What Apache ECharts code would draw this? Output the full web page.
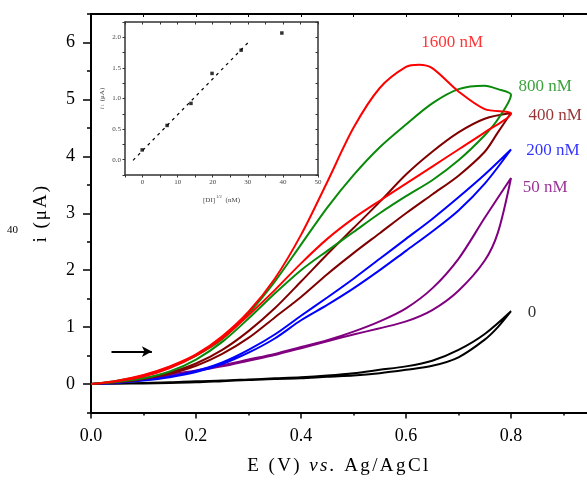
<!DOCTYPE html>
<html>
<head>
<meta charset="utf-8">
<script src="https://cdn.jsdelivr.net/npm/echarts@6.0.0/dist/echarts.min.js"></script>
<style>
html,body{margin:0;padding:0;background:#fff}
#chart{width:587px;height:488px}
</style>
</head>
<body>
<div id="chart"></div>
<script>
// cyclic voltammograms, [E (V), i (uA)]: out to 0.8 V, then back to 0
var cv0 = [[0,0],[0.05,0.01],[0.1,0.02],[0.15,0.03],[0.2,0.05],[0.25,0.06],[0.3,0.08],[0.35,0.1],[0.4,0.12],[0.45,0.15],[0.5,0.19],[0.55,0.25],[0.6,0.31],[0.65,0.41],[0.7,0.6],[0.75,0.88],[0.8,1.28],
  [0.775,1.0],[0.75,0.78],[0.7,0.47],[0.65,0.32],[0.6,0.25],[0.55,0.19],[0.5,0.15],[0.45,0.13],[0.4,0.1],[0.35,0.09],[0.3,0.07],[0.25,0.05],[0.2,0.03],[0.15,0.02],[0.1,0.01],[0.05,0.005],[0,0]];
var cv50 = [[0,0],[0.05,0.03],[0.1,0.09],[0.15,0.17],[0.2,0.24],[0.25,0.33],[0.3,0.43],[0.35,0.53],[0.4,0.65],[0.45,0.77],[0.5,0.92],[0.55,1.1],[0.6,1.33],[0.65,1.68],[0.7,2.2],[0.75,2.92],[0.8,3.62],
  [0.775,2.66],[0.75,2.17],[0.7,1.64],[0.65,1.3],[0.6,1.1],[0.55,0.98],[0.5,0.87],[0.45,0.75],[0.4,0.63],[0.35,0.51],[0.3,0.41],[0.25,0.31],[0.2,0.23],[0.15,0.15],[0.1,0.08],[0.05,0.03],[0,0]];
var cv200 = [[0,0],[0.05,0.03],[0.1,0.07],[0.15,0.13],[0.2,0.23],[0.25,0.38],[0.3,0.6],[0.35,0.87],[0.4,1.2],[0.45,1.52],[0.5,1.85],[0.55,2.2],[0.6,2.55],[0.65,2.9],[0.7,3.28],[0.75,3.68],[0.8,4.12],
  [0.75,3.52],[0.7,3.05],[0.65,2.68],[0.6,2.34],[0.55,2.0],[0.5,1.68],[0.45,1.39],[0.4,1.12],[0.35,0.8],[0.3,0.55],[0.25,0.35],[0.2,0.21],[0.15,0.12],[0.1,0.06],[0.05,0.02],[0,0]];
var cv400 = [[0,0],[0.05,0.04],[0.1,0.1],[0.15,0.2],[0.2,0.36],[0.25,0.6],[0.3,0.93],[0.35,1.33],[0.4,1.8],[0.45,2.28],[0.5,2.74],[0.55,3.2],[0.6,3.68],[0.65,4.08],[0.7,4.42],[0.75,4.66],[0.8,4.76],
  [0.775,4.42],[0.75,4.08],[0.7,3.66],[0.65,3.33],[0.6,3.0],[0.55,2.65],[0.5,2.3],[0.45,1.93],[0.4,1.53],[0.35,1.17],[0.3,0.81],[0.25,0.53],[0.2,0.32],[0.15,0.18],[0.1,0.09],[0.05,0.03],[0,0]];
var cv800 = [[0,0],[0.05,0.06],[0.1,0.15],[0.15,0.3],[0.2,0.5],[0.25,0.79],[0.3,1.24],[0.35,1.8],[0.4,2.45],[0.45,3.1],[0.5,3.67],[0.55,4.16],[0.6,4.56],[0.65,4.93],[0.7,5.18],[0.75,5.24],[0.775,5.18],[0.8,5.08],
  [0.775,4.65],[0.75,4.37],[0.7,3.93],[0.65,3.58],[0.6,3.3],[0.55,3.0],[0.5,2.67],[0.45,2.34],[0.4,2.0],[0.35,1.59],[0.3,1.15],[0.25,0.74],[0.2,0.43],[0.15,0.22],[0.1,0.1],[0.05,0.04],[0,0]];
var cv1600 = [[0,0],[0.05,0.06],[0.1,0.16],[0.15,0.31],[0.2,0.52],[0.25,0.84],[0.3,1.27],[0.35,1.85],[0.4,2.62],[0.45,3.55],[0.5,4.5],[0.55,5.2],[0.6,5.57],[0.625,5.61],[0.65,5.55],[0.7,5.14],[0.75,4.83],[0.8,4.75],
  [0.75,4.42],[0.7,4.12],[0.65,3.82],[0.6,3.52],[0.55,3.22],[0.5,2.91],[0.45,2.55],[0.4,2.12],[0.35,1.65],[0.3,1.21],[0.25,0.8],[0.2,0.5],[0.15,0.28],[0.1,0.13],[0.05,0.05],[0,0]];

var curveNames = ['0', '50 nM', '200 nM', '400 nM', '800 nM', '1600 nM'];
var curveColors = ['#000000', '#800080', '#0000ff', '#800000', '#0a8a0a', '#ff0000'];
var curves = [cv0, cv50, cv200, cv400, cv800, cv1600];
// where each concentration label sits (E, i)
var labelE = [0.84, 0.865, 0.88, 0.884, 0.865, 0.688];
var labelI = [1.25, 3.46, 4.1, 4.72, 5.23, 6.0];

var arrowE = [0.039, 0.116];
var arrowI = [0.57, 0.57];

// inset: peak current vs [DI]^1/2
var insetX = [-0.1, 7.0, 13.8, 19.8, 28.1, 39.7];
var insetY = [0.16, 0.56, 0.92, 1.41, 1.79, 2.07];
var fitX = [-2.7, 30.2];
var fitY = [-0.01, 1.92];

var serif = '"Liberation Serif", "DejaVu Serif", serif';
var myChart = echarts.init(document.getElementById('chart'));

// spread letters a little, the figure was typeset loosely
function spaced(str, style) {
    return str.split('').map(function (c) { return '{' + style + '|' + c + '}'; }).join('');
}

var series = [];
for (var k = 0; k < curves.length; k++) {
    series.push({
        name: curveNames[k],
        type: 'line',
        xAxisIndex: 0, yAxisIndex: 0,
        data: curves[k],
        showSymbol: false,
        smooth: 0.3,
        lineStyle: {color: curveColors[k], width: 2},
        silent: true
    });
}
var labelData = [];
for (var j = 0; j < curveNames.length; j++) {
    labelData.push({
        value: [labelE[j], labelI[j]],
        name: curveNames[j],
        label: {color: curveColors[j]}
    });
}
series.push({
    type: 'scatter', xAxisIndex: 0, yAxisIndex: 0,
    symbolSize: 0, data: labelData, silent: true,
    label: {show: true, position: 'inside', formatter: '{b}', fontFamily: serif, fontSize: 17}
});
series.push({
    type: 'line', xAxisIndex: 0, yAxisIndex: 0, data: [], silent: true,
    markLine: {
        silent: true, symbol: ['none', 'arrow'], symbolSize: [8, 10],
        label: {show: false},
        lineStyle: {color: '#000', width: 2, type: 'solid'},
        data: [[{coord: [arrowE[0], arrowI[0]]}, {coord: [arrowE[1], arrowI[1]]}]]
    }
});
// inset
series.push({
    type: 'line', xAxisIndex: 2, yAxisIndex: 2,
    data: [[fitX[0], fitY[0]], [fitX[1], fitY[1]]],
    showSymbol: false, silent: true,
    lineStyle: {color: '#000', width: 1.2, type: [3, 4]}
});
series.push({
    type: 'scatter', xAxisIndex: 2, yAxisIndex: 2,
    data: insetX.map(function (x, n) { return [x, insetY[n]]; }),
    symbol: 'rect', symbolSize: 3.5, silent: true,
    itemStyle: {color: '#000'}
});

var halfTicks = [];
for (var h = -0.5; h <= 6.5; h += 1) halfTicks.push(h);

var option = {
    animation: false,
    backgroundColor: '#fff',
    grid: [
        {left: 91, top: 14, width: 525, height: 398.5, outerBoundsMode: 'none', containLabel: false},
        {left: 125, top: 22, width: 193, height: 153, outerBoundsMode: 'none', containLabel: false}
    ],
    xAxis: [
        {
            gridIndex: 0, type: 'value', min: 0, max: 1.0, interval: 0.2,
            axisLine: {onZero: false, lineStyle: {color: '#000', width: 2}},
            axisTick: {length: 6, lineStyle: {color: '#000', width: 1.5}},
            minorTick: {show: true, splitNumber: 2, length: 3, lineStyle: {color: '#000', width: 1.5}},
            splitLine: {show: false},
            axisLabel: {margin: 15, color: '#000', fontFamily: serif, fontSize: 18,
                formatter: function (v) { return v.toFixed(1); }}
        },
        {
            gridIndex: 0, type: 'value', position: 'top', min: 0, max: 1.0, interval: 0.1,
            axisLine: {onZero: false, lineStyle: {color: '#000', width: 2}},
            axisTick: {inside: true, length: 3, lineStyle: {color: '#000'}},
            splitLine: {show: false}, axisLabel: {show: false}
        },
        {
            gridIndex: 1, type: 'value', min: -5, max: 50, interval: 5,
            axisLine: {onZero: false, lineStyle: {color: '#333', width: 1.5}},
            axisTick: {length: 2.5, lineStyle: {color: '#333'}},
            splitLine: {show: false},
            axisLabel: {margin: 4, color: '#444', fontFamily: serif, fontSize: 7,
                formatter: function (v) { return v % 10 === 0 ? String(v) : ''; }},
            name: '{a|[DI]}{s|1/2}{a| (nM)}', nameLocation: 'middle', nameGap: 19,
            nameTextStyle: {color: '#444', fontFamily: serif, fontSize: 7,
                rich: {a: {fontFamily: serif, fontSize: 7, color: '#444'},
                       s: {fontFamily: serif, fontSize: 4.5, color: '#444', padding: [0, 2, 7, 1]}}}
        },
        {
            gridIndex: 1, type: 'value', position: 'top', min: -5, max: 50, interval: 5,
            axisLine: {onZero: false, lineStyle: {color: '#333', width: 1.5}},
            axisTick: {inside: true, length: 2.5, lineStyle: {color: '#333'}},
            splitLine: {show: false}, axisLabel: {show: false}
        }
    ],
    yAxis: [
        {
            gridIndex: 0, type: 'value', position: 'left', min: -0.5, max: 6.5, interval: 0.5,
            axisLine: {show: true, onZero: false, lineStyle: {color: '#000', width: 2}},
            axisTick: {show: true, length: 8, customValues: [0, 1, 2, 3, 4, 5, 6], lineStyle: {color: '#000', width: 1.5}},
            splitLine: {show: false},
            axisLabel: {margin: 16, color: '#000', fontFamily: serif, fontSize: 18,
                customValues: [0, 1, 2, 3, 4, 5, 6],
                formatter: function (v) { return String(Math.round(v)); }},
            name: spaced('i (μA)', 'a'), nameLocation: 'middle', nameRotate: 90, nameGap: 40,
            nameTextStyle: {color: '#000', fontFamily: serif, fontSize: 19,
                rich: {a: {fontFamily: serif, fontSize: 19, color: '#000', padding: [0, 2, 0, 0]}}}
        },
        {
            gridIndex: 0, type: 'value', position: 'left', offset: 0, min: -0.5, max: 6.5, interval: 0.5,
            axisLine: {show: false, onZero: false},
            axisTick: {show: true, length: 4, customValues: halfTicks, lineStyle: {color: '#000', width: 1.5}},
            splitLine: {show: false}, axisLabel: {show: false}
        },
        {
            gridIndex: 1, type: 'value', position: 'left', min: -0.25, max: 2.25, interval: 0.25,
            axisLine: {show: true, onZero: false, lineStyle: {color: '#333', width: 1.5}},
            axisTick: {show: true, length: 2.5, lineStyle: {color: '#333'}},
            splitLine: {show: false},
            axisLabel: {margin: 4, color: '#444', fontFamily: serif, fontSize: 7,
                formatter: function (v) { return Math.abs(v * 2 - Math.round(v * 2)) < 1e-6 ? v.toFixed(1) : ''; }},
            name: '{i|i}{s|1}{a| (μA)}', nameLocation: 'middle', nameRotate: 90, nameGap: 19,
            nameTextStyle: {color: '#444', fontFamily: serif, fontSize: 7,
                rich: {a: {fontFamily: serif, fontSize: 7, color: '#444'},
                       i: {fontFamily: serif, fontSize: 7, fontStyle: 'italic', color: '#444'},
                       s: {fontFamily: serif, fontSize: 4.5, color: '#444', padding: [0, 1, 0, 1]}}}
        },
        {
            gridIndex: 1, type: 'value', position: 'right', min: -0.25, max: 2.25, interval: 0.25,
            axisLine: {show: true, onZero: false, lineStyle: {color: '#333', width: 1.5}},
            axisTick: {show: true, inside: true, length: 2.5, lineStyle: {color: '#333'}},
            splitLine: {show: false}, axisLabel: {show: false}
        }
    ],
    graphic: [
        {
            type: 'text', x: 339, y: 466,
            style: {
                text: spaced('E (V) ', 'a') + spaced('vs.', 'b') + spaced(' Ag/AgCl', 'a'),
                align: 'center', verticalAlign: 'middle',
                rich: {
                    a: {fontFamily: serif, fontSize: 19, fill: '#000', padding: [0, 2.4, 0, 0]},
                    b: {fontFamily: serif, fontSize: 19, fontStyle: 'italic', fill: '#000', padding: [0, 2.4, 0, 0]}
                }
            }
        },
        {
            type: 'text', left: 7, top: 225,
            style: {text: '40', fontFamily: serif, fontSize: 11, fill: '#000'}
        }
    ],
    series: series
};

myChart.setOption(option);
</script>
</body>
</html>
